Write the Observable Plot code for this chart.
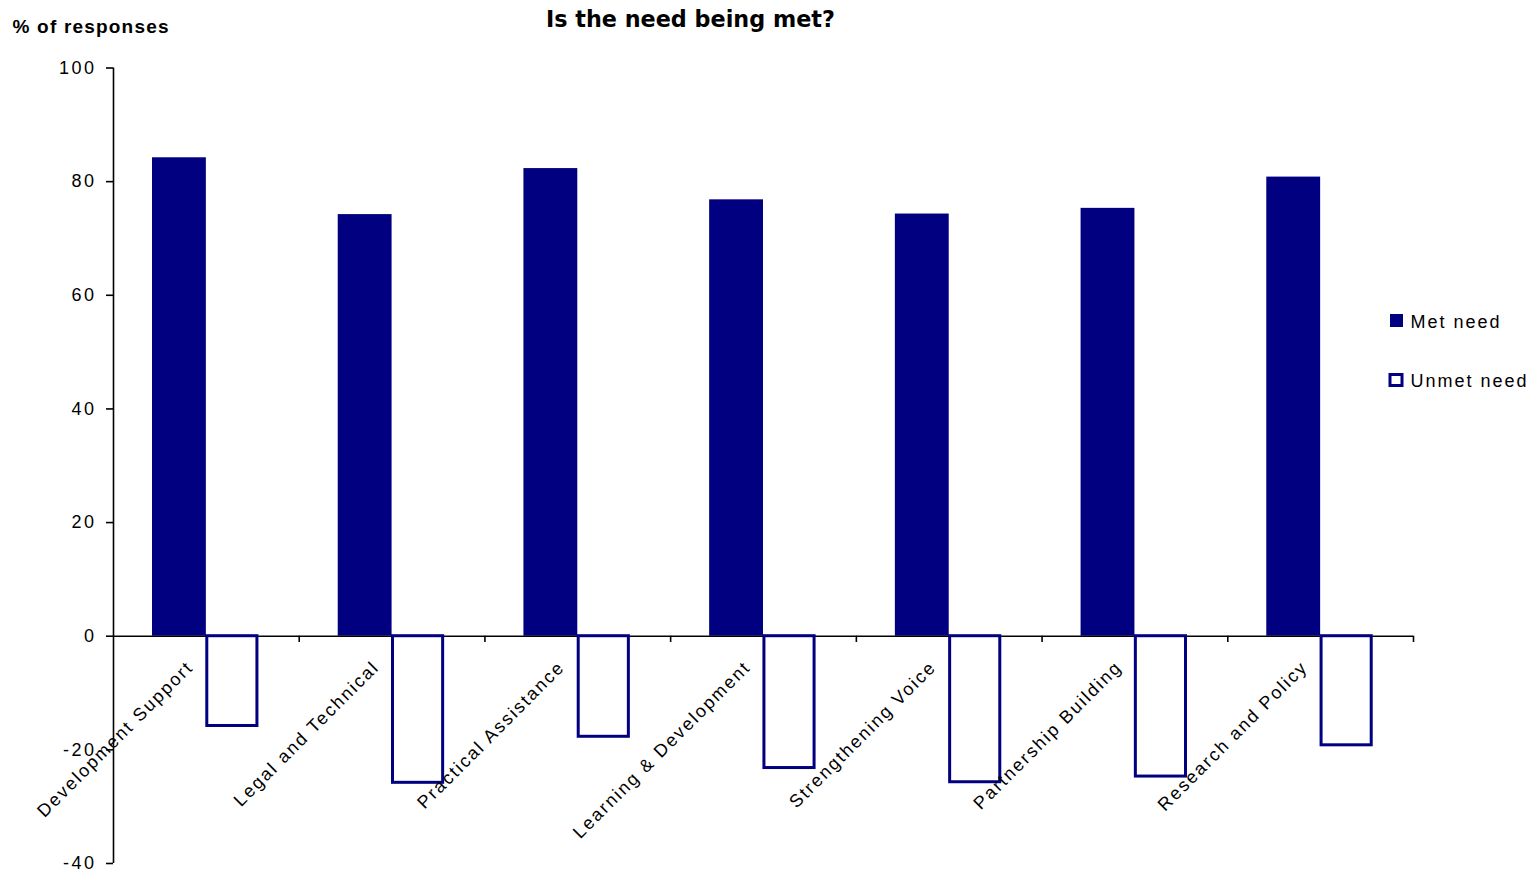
<!DOCTYPE html>
<html>
<head>
<meta charset="utf-8">
<script src="https://cdn.jsdelivr.net/npm/d3@7"></script>
<script src="https://cdn.jsdelivr.net/npm/@observablehq/plot@0.6"></script>
<style>
  body { margin: 0; background: #fff; }
  #wrap { position: relative; width: 1537px; height: 872px; overflow: hidden; }
  #chart { position: absolute; left: 0; top: 0; }
  #chart text { letter-spacing: 2px; }
  #chart g[aria-label="y-axis tick label"] text { letter-spacing: 2.5px; }
  #overlay { position: absolute; left: 0; top: 0; pointer-events: none; }
  #overlay .title { font: bold 22.3px "DejaVu Sans"; fill: #000; }
  #overlay .ylab { font: bold 19px "Liberation Sans"; letter-spacing: 1.2px; fill: #000; }
  #overlay .legtext { font: 18px "Liberation Sans"; letter-spacing: 2px; fill: #000; }
</style>
</head>
<body>
<div id="wrap">
  <div id="chart"></div>
  <svg id="overlay" width="1537" height="872" xmlns="http://www.w3.org/2000/svg">
    <text class="title" x="546" y="26.7">Is the need being met?</text>
    <text class="ylab" x="12.5" y="33.3">% of responses</text>
    <g id="legend"></g>
  </svg>
</div>
<script>
const categories = ["Development Support", "Legal and Technical", "Practical Assistance", "Learning & Development", "Strengthening Voice", "Partnership Building", "Research and Policy"];
const metNeed = [84.2, 74.2, 82.3, 76.8, 74.3, 75.3, 80.8];
const unmetNeed = [-15.8, -25.8, -17.7, -23.2, -25.7, -24.7, -19.2];
const yTicks = [-40, -20, 0, 20, 40, 60, 80, 100];
const seriesNames = ["Met need", "Unmet need"];

const navy = "#000080";
const rows = categories.map((cat, i) => ({cat, i, met: metNeed[i], unmet: unmetNeed[i]}));
const n = categories.length;

const chart = Plot.plot({
  width: 1537,
  height: 872,
  marginLeft: 113,
  marginRight: 124,
  marginTop: 67.5,
  marginBottom: 9,
  style: {background: "transparent", fontFamily: "Liberation Sans", fontSize: "18px", color: "#000", overflow: "visible"},
  x: {domain: [0, n], axis: null},
  y: {domain: [-40, 100], axis: null},
  marks: [
    Plot.rect(rows, {x1: d => d.i + 0.21, x2: d => d.i + 0.5, y1: 0, y2: "met", fill: navy}),
    Plot.ruleY([0], {x1: 0, x2: n, stroke: "#000", strokeWidth: 1.6}),
    Plot.ruleX(d3.range(1, n + 1), {y1: 0, y2: -1.1, stroke: "#000", strokeWidth: 1.6}),
    Plot.ruleX([0], {y1: -40, y2: 100, stroke: "#000", strokeWidth: 1.6}),
    Plot.rect(rows, {x1: d => d.i + 0.505, x2: d => d.i + 0.775, y1: 0, y2: "unmet", fill: "white", stroke: navy, strokeWidth: 3}),
    Plot.axisY({ticks: yTicks, tickSize: 7, tickPadding: 10, tickFormat: d => String(d), fontSize: 18, stroke: "#000", strokeWidth: 1.6, fill: "#000"}),
    Plot.text(rows, {x: d => d.i + 0.5, y: 0, text: "cat", rotate: -45, textAnchor: "end", dx: -16, dy: 28, fontSize: 18, fill: "#000"})
  ]
});
document.getElementById("chart").appendChild(chart);

// legend (drawn in the overlay svg)
const legend = d3.select("#legend");
const legendItems = [
  {name: seriesNames[0], x: 1390, y: 314, w: 13, h: 13, fill: navy, stroke: "none", sw: 0, ty: 327.7},
  {name: seriesNames[1], x: 1390, y: 374.5, w: 12, h: 11, fill: "#fff", stroke: navy, sw: 3, ty: 386.7}
];
for (const it of legendItems) {
  legend.append("rect").attr("x", it.x).attr("y", it.y).attr("width", it.w).attr("height", it.h)
    .attr("fill", it.fill).attr("stroke", it.stroke).attr("stroke-width", it.sw);
  legend.append("text").attr("class", "legtext").attr("x", 1410.5).attr("y", it.ty).text(it.name);
}
</script>
</body>
</html>
